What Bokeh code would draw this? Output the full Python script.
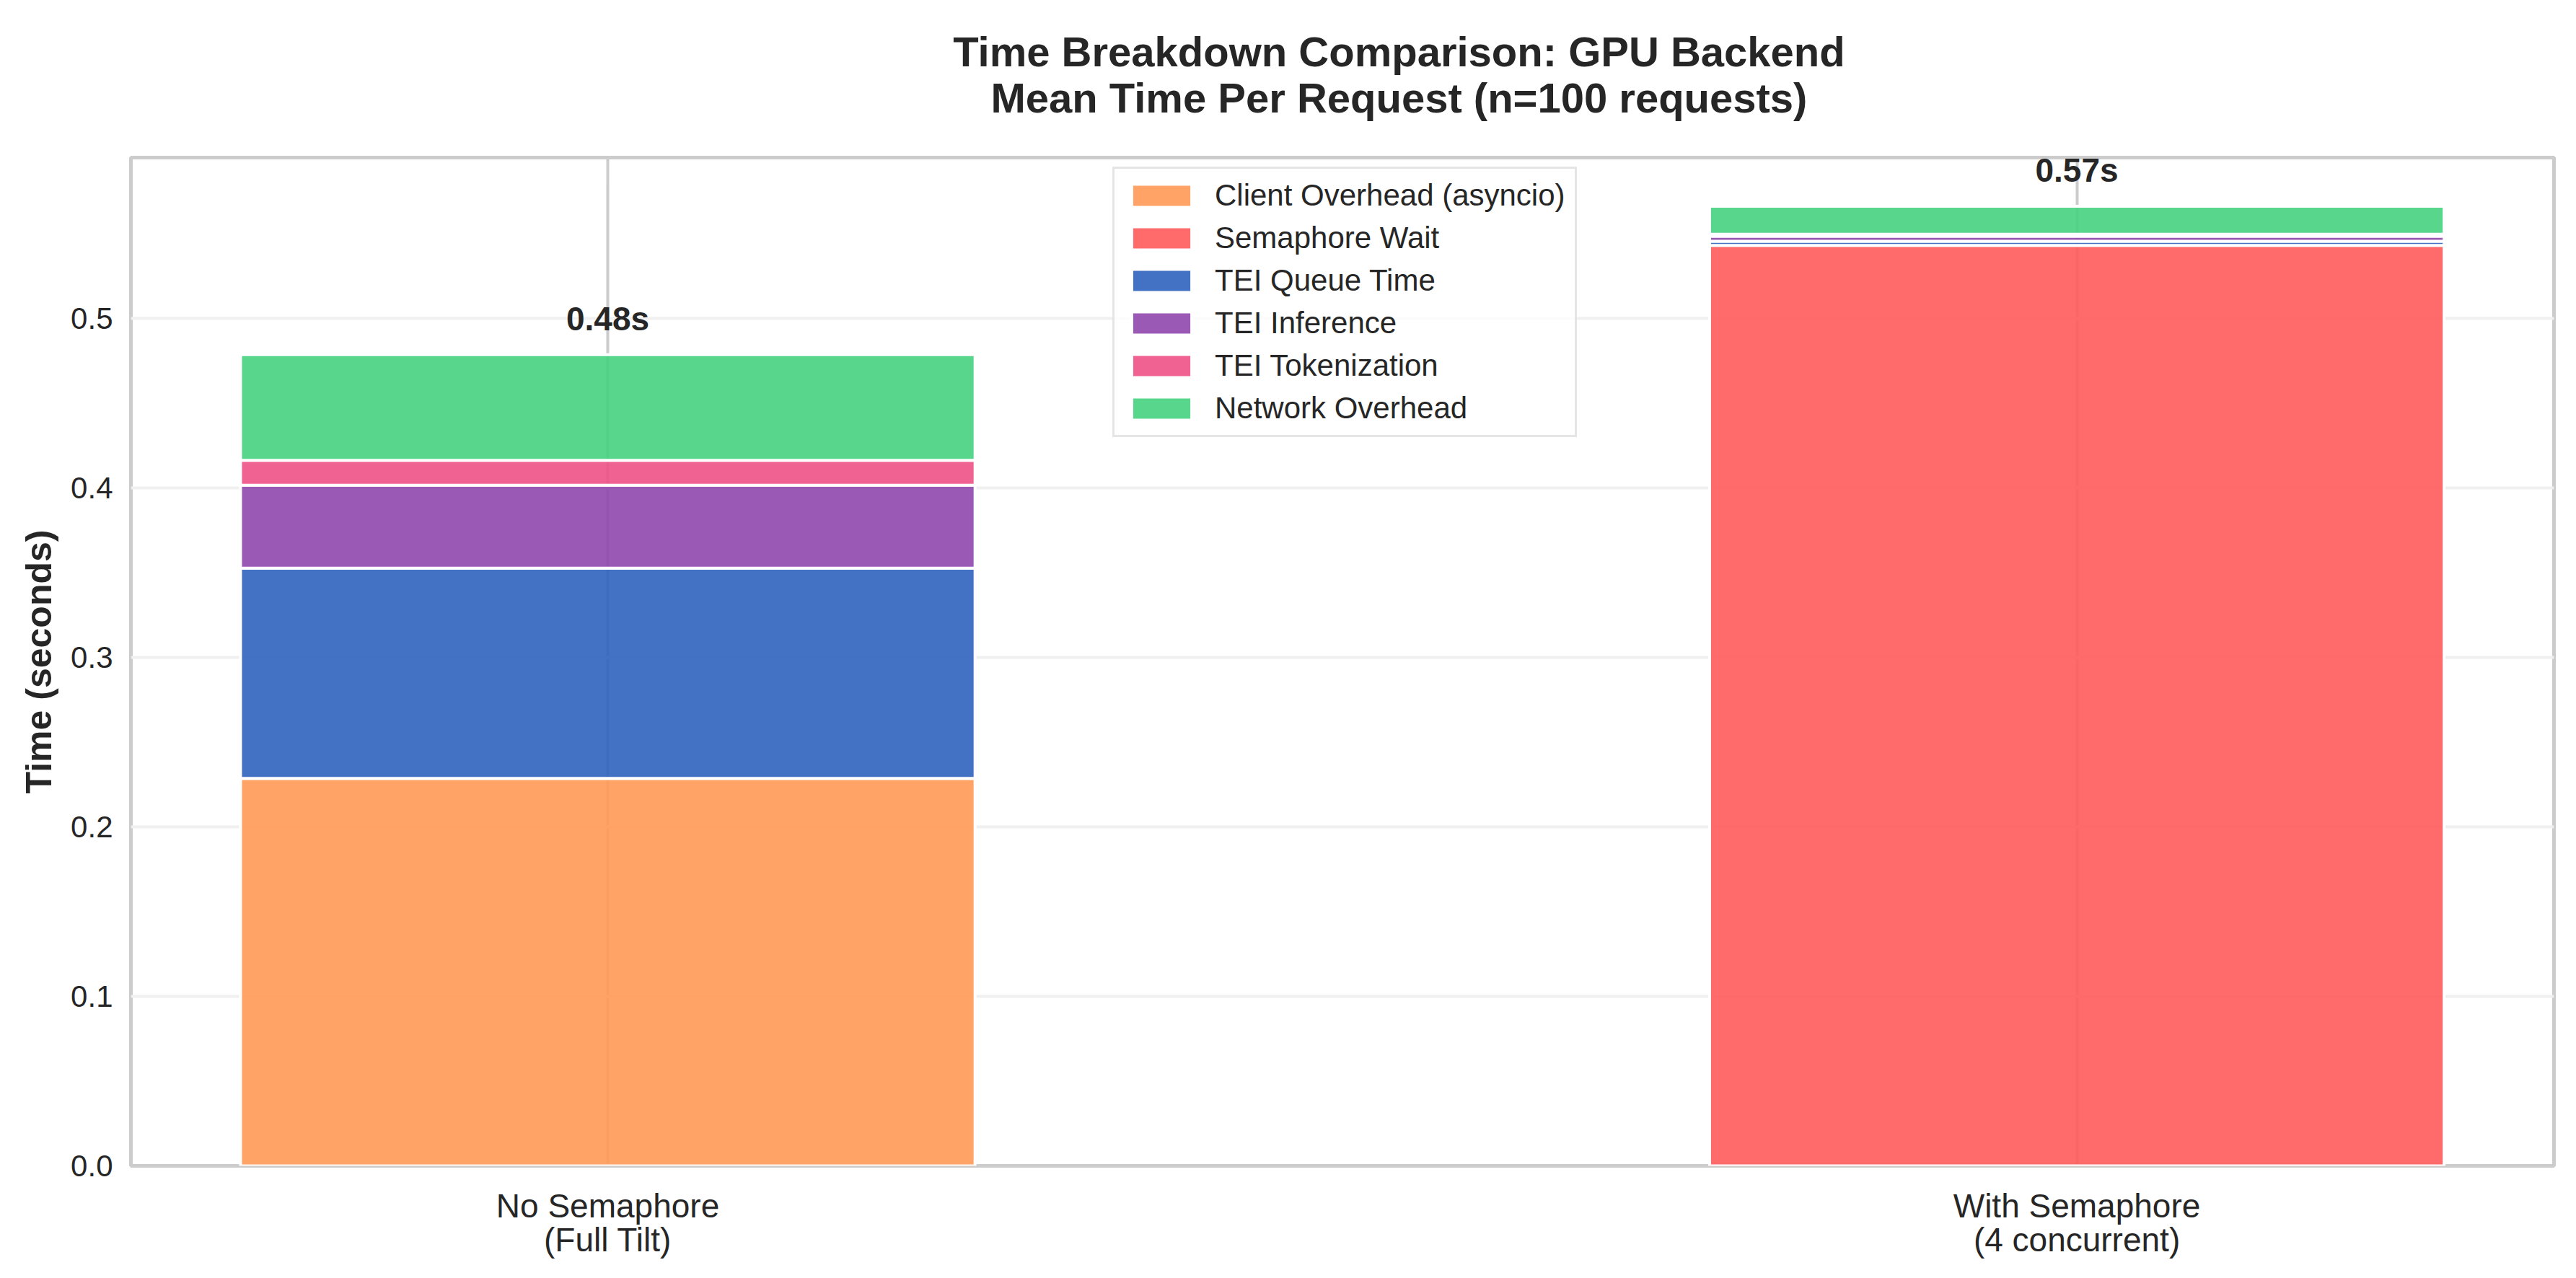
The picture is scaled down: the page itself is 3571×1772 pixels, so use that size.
from bokeh.plotting import figure
from bokeh.layouts import column
from bokeh.models import Range1d, FixedTicker, PrintfTickFormatter, ColumnDataSource
from bokeh.embed import file_html
from bokeh.resources import INLINE
from bokeh.core.properties import value

# ---- data ----
categories = ["No Semaphore\n(Full Tilt)", "With Semaphore\n(4 concurrent)"]
x_pos = [0, 1]
client_overhead = [0.2287, 0.0]
semaphore_wait = [0.0, 0.5432]
tei_queue = [0.1240, 0.0024]
tei_inference = [0.0490, 0.0030]
tei_tokenization = [0.0146, 0.0012]
network_overhead = [0.0624, 0.0165]
series_names = ["Client Overhead (asyncio)", "Semaphore Wait", "TEI Queue Time",
                "TEI Inference", "TEI Tokenization", "Network Overhead"]
series_colors = ["#FF9A55", "#FF5B5B", "#2F62BD", "#9047AE", "#EE5186", "#45D180"]
y_ticks = [0.0, 0.1, 0.2, 0.3, 0.4, 0.5]
title_lines = ["Time Breakdown Comparison: GPU Backend", "Mean Time Per Request (n=100 requests)"]

keys = ["client", "sem", "queue", "inf", "tok", "net"]
series = [client_overhead, semaphore_wait, tei_queue, tei_inference, tei_tokenization, network_overhead]
totals = [sum(s[i] for s in series) for i in range(len(x_pos))]
total_labels = [f"{t:.2f}s" for t in totals]

FONT = "Liberation Sans"
TXT = "#262626"
W = 3555
TITLE_H = 208
BORDER_L, BORDER_R, BORDER_T, BORDER_B = 181, 15, 10, 140
FRAME_W, FRAME_H = W - BORDER_L - BORDER_R, 1398

# ---- title strip (its own small figure above the chart) ----
tf = figure(width=W, height=TITLE_H, output_backend="svg", toolbar_location=None,
            x_range=Range1d(0, W), y_range=Range1d(0, TITLE_H),
            x_axis_type=None, y_axis_type=None, min_border=0)
tf.outline_line_color = None
tf.background_fill_color = "white"
tf.border_fill_color = "white"
tf.text(x=[BORDER_L + FRAME_W / 2] * 2, y=[TITLE_H - 71, TITLE_H - 135], text=title_lines,
        text_align="center", text_baseline="alphabetic", text_font=value(FONT),
        text_font_style="bold", text_font_size="58px", text_color=TXT)

# ---- main chart ----
p = figure(width=W, height=BORDER_T + FRAME_H + BORDER_B, output_backend="svg",
           toolbar_location=None, title=None,
           x_range=Range1d(-0.3246, 1.3248), y_range=Range1d(0.0, 0.595),
           min_border_left=BORDER_L, min_border_right=BORDER_R,
           min_border_top=BORDER_T, min_border_bottom=BORDER_B)
p.background_fill_color = "white"
p.border_fill_color = "white"

src_data = {"x": x_pos}
for k, s in zip(keys, series):
    src_data[k] = s
src = ColumnDataSource(src_data)

p.vbar_stack(keys, x="x", width=0.5, source=src, fill_color=series_colors, fill_alpha=0.9,
             line_color="white", line_width=4, legend_label=series_names)

p.text(x=x_pos, y=[t + 0.01 for t in totals], text=total_labels, text_align="center",
       text_baseline="bottom", text_font=value(FONT), text_font_style="bold",
       text_font_size="46px", text_color=TXT)

# axes
p.yaxis.ticker = FixedTicker(ticks=y_ticks)
p.yaxis.formatter = PrintfTickFormatter(format="%.1f")
p.yaxis.major_label_text_font = FONT
p.yaxis.major_label_text_font_size = "42px"
p.yaxis.major_label_text_color = TXT
p.yaxis.major_label_standoff = 19
p.yaxis.axis_label = "Time (seconds)"
p.yaxis.axis_label_text_font = FONT
p.yaxis.axis_label_text_font_size = "50px"
p.yaxis.axis_label_text_font_style = "bold"
p.yaxis.axis_label_text_color = TXT
p.yaxis.axis_label_standoff = 13

p.xaxis.ticker = FixedTicker(ticks=x_pos)
p.xaxis.major_label_overrides = {x: c for x, c in zip(x_pos, categories)}
p.xaxis.major_label_text_font = FONT
p.xaxis.major_label_text_font_size = "46px"
p.xaxis.major_label_text_color = TXT
p.xaxis.major_label_text_line_height = 0.91
p.xaxis.major_label_standoff = 23

for ax in (p.xaxis[0], p.yaxis[0]):
    ax.axis_line_color = None
    ax.major_tick_line_color = None
    ax.minor_tick_line_color = None

p.outline_line_color = "#cccccc"
p.outline_line_width = 5

p.xgrid.grid_line_color = "#cccccc"
p.xgrid.grid_line_width = 4
p.ygrid.grid_line_color = "#f0f0f0"
p.ygrid.grid_line_width = 4

# legend
lg = p.legend[0]
lg.location = (1361, 1010)
lg.label_text_font = FONT
lg.label_text_font_size = "42px"
lg.label_text_color = TXT
lg.label_height = 48
lg.glyph_height = 40
lg.glyph_width = 104
lg.spacing = 11
lg.padding = 13
lg.label_standoff = 22
lg.border_line_color = "#cccccc"
lg.border_line_width = 3
lg.background_fill_alpha = 0.8
lg.margin = 0

layout = column(tf, p, spacing=0)
open("out.html", "w").write(file_html(layout, INLINE))
